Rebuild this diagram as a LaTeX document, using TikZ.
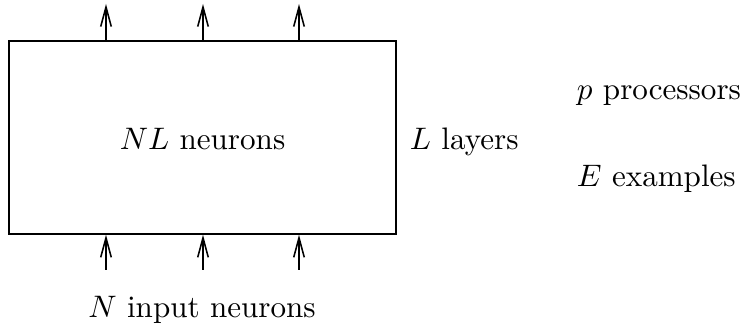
\documentclass[tikz,border=0pt]{standalone}
\usepackage{tikz}
\usetikzlibrary{arrows.meta, calc, positioning}

\begin{document}
\begin{tikzpicture}[>={Straight Barb[length=6.3pt, width=3.4pt]}, x=0.0113cm, y=-0.0113cm]
    \useasboundingbox (0,0) rectangle (741,325);

    % شبکه
    \node[draw, line width=0.5pt, minimum width=387*0.0113cm, minimum height=193*0.0113cm, inner sep=0pt] (net) at (202.5,137.5) {};
    \node[anchor=base] (neurons) at (202.5,150) {$NL$ neurons};

    % برچسب‌ها
    \node[anchor=base west] (layers) at (399,150) {$L$ layers};
    \node[anchor=base west] (procs) at (566,100) {$p$ processors};
    \node[anchor=base west] (examples) at (566,187) {$E$ examples};
    \node[anchor=base] (inputs) at (202,318) {$N$ input neurons};

    % پیکان‌ها
    \foreach \x [count=\i] in {106,203,299} {
        \coordinate (in\i) at (\x,270);
        \coordinate (out\i) at (\x,4);
        \draw[->, line width=0.5pt] (in\i) -- (in\i |- net.south);
        \draw[->, line width=0.5pt] (out\i |- net.north) -- (out\i);
    }
\end{tikzpicture}
\end{document}
